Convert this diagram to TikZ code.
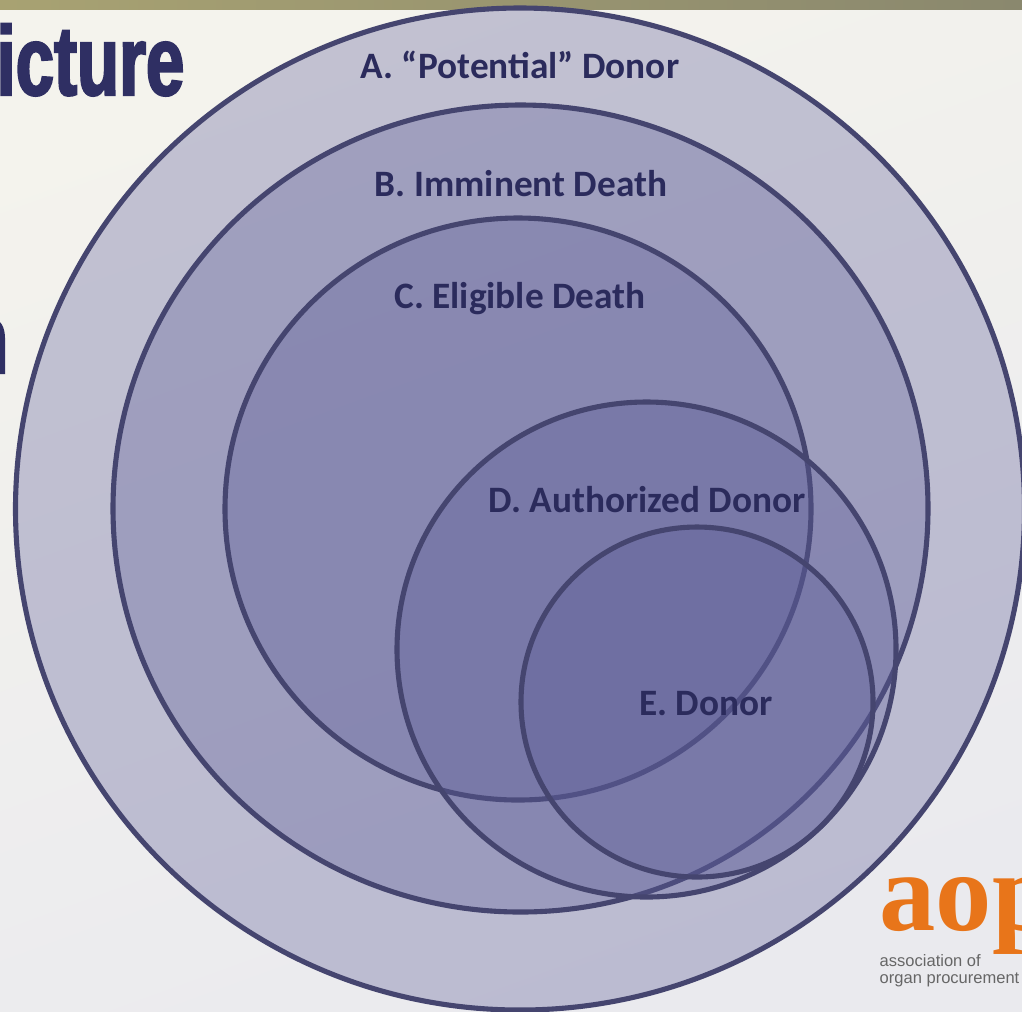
\documentclass[tikz,border=0pt]{standalone}
\usepackage{fontspec}
\setmainfont{Carlito}
\newfontfamily\titlefont[FakeStretch=0.7,FakeBold=2.2]{Liberation Sans}
\newfontfamily\logofont{Liberation Serif}
\newfontfamily\logosans{Liberation Sans}
\usetikzlibrary{positioning,calc}
\definecolor{rimcol}{HTML}{45456F}
\definecolor{fillcol}{HTML}{5D5D98}
\definecolor{inkcol}{HTML}{2B2B5C}
\definecolor{headcol}{HTML}{2F2F63}
\definecolor{logocol}{HTML}{E8751A}
\definecolor{pagetop}{HTML}{F4F3ED}
\definecolor{pagelow}{HTML}{EAEAEE}
\definecolor{barleft}{HTML}{A8A272}
\definecolor{barright}{HTML}{8A886E}
\tikzset{
    ring/.style={draw=rimcol,line width=1.45pt,fill=fillcol,fill opacity=0.33},
    ringlabel/.style={anchor=base,inner sep=0pt,text=inkcol,font=\fontsize{10.6}{12}\selectfont\bfseries},
    headline/.style={anchor=base east,inner sep=0pt,text=headcol,font=\fontsize{28}{30}\titlefont\bfseries},
    logotext/.style={anchor=base west,inner sep=0pt,text=black!60,font=\fontsize{4.7}{5}\logosans}
}
\begin{document}
\begin{tikzpicture}[x=0.01cm,y=-0.01cm]
    \useasboundingbox (0,0) rectangle (1022,1011);

    % Fond de page
    \shade[top color=pagetop,bottom color=pagelow,shading angle=20] (0,0) rectangle (1022,1011);
    \shade[left color=barleft,right color=barright] (0,0) rectangle (1022,9);

    % Titre coupe
    \node[headline] (titleA) at (185,95) {icture};
    \node[headline] (titleB) at (9,373) {n};

    % Cercles
    \draw[ring] (520,509) ellipse (504.5 and 501);
    \draw[ring] (520.5,508.5) ellipse (407.5 and 403.5);
    \draw[ring] (518,509) ellipse (293 and 291);
    \draw[ring] (646.5,649.5) ellipse (249.5 and 247.5);
    \draw[ring] (697,702) ellipse (176 and 175);

    % Labels
    \node[ringlabel] (labelA) at (520,78) {A. “Potential” Donor};
    \node[ringlabel] (labelB) at (521,196) {B. Imminent Death};
    \node[ringlabel] (labelC) at (520,308) {C. Eligible Death};
    \node[ringlabel] (labelD) at (647,512) {D. Authorized Donor};
    \node[ringlabel] (labelE) at (706,715) {E. Donor};

    % Logo
    \node[anchor=base west,inner sep=0pt,text=logocol,font=\fontsize{32}{34}\logofont\bfseries] (logo) at (879,930) {aop};
    \node[logotext] (logoA) at (879,966) {association of};
    \node[logotext] (logoB) at (879,983) {organ procurement};
\end{tikzpicture}
\end{document}
